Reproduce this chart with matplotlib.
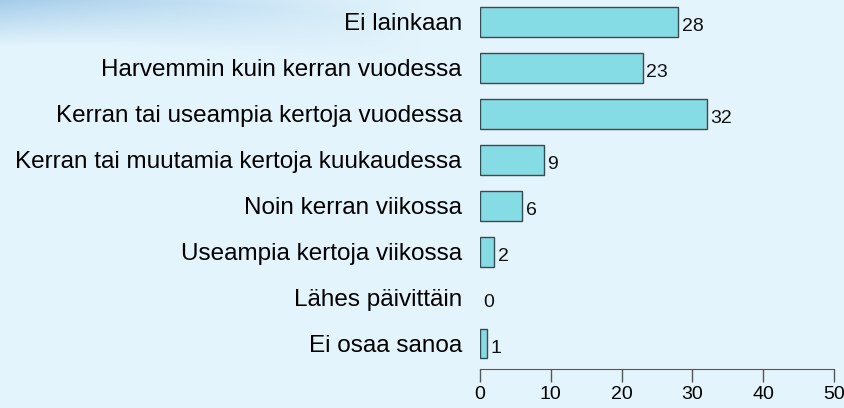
import numpy as np
import matplotlib.pyplot as plt

categories = ['Ei lainkaan', 'Harvemmin kuin kerran vuodessa',
              'Kerran tai useampia kertoja vuodessa',
              'Kerran tai muutamia kertoja kuukaudessa',
              'Noin kerran viikossa', 'Useampia kertoja viikossa',
              'Lähes päivittäin', 'Ei osaa sanoa']
values = [28, 23, 32, 9, 6, 2, 0, 1]
xticks = [0, 10, 20, 30, 40, 50]

plt.rcParams['font.family'] = ['Liberation Sans', 'DejaVu Sans']

W, H = 844, 408
fig = plt.figure(figsize=(W / 100, H / 100), dpi=100)
fig.patch.set_facecolor('#e3f4fc')

# soft blue swoosh in the top-left corner
bg = fig.add_axes([0, 0, 1, 1], zorder=-1)
yy, xx = np.mgrid[0:H, 0:W]
curve = 0.0002 * (xx - 60) ** 2
d = (yy - curve) / 45.0
fade = np.clip(1 - xx / 420.0, 0, 1)
swoosh = np.where(d >= 0, np.clip(1 - d, 0, 1), np.clip(1 + d * 0.5, 0, 1)) * fade
base = np.array([227, 244, 252]) / 255
dark = np.array([150, 195, 230]) / 255
a = swoosh[..., None] * 0.8
img = base[None, None, :] * (1 - a) + dark[None, None, :] * a
bg.imshow(img, aspect='auto', extent=[0, W, H, 0])
bg.axis('off')

ax = fig.add_axes([480 / W, 1 - 369 / H, (834 - 480) / W, 369 / H])
ax.patch.set_alpha(0)
y = np.arange(len(categories))
lw = [1 if v > 0 else 0 for v in values]
ax.barh(y, values, height=0.65, color='#86dce4', edgecolor='#3a4a50', linewidth=lw)
for yi, v in zip(y, values):
    ax.text(v + 0.5, yi + 0.1, str(v), va='center', ha='left', fontsize=14, color='#111111')

ax.set_xlim(0, 50)
ax.set_ylim(7.554, -0.478)
ax.set_yticks(y)
ax.set_yticklabels(categories, fontsize=17.5)
ax.tick_params(axis='y', length=0, pad=13)
ax.set_xticks(xticks)
ax.tick_params(axis='x', length=9, width=1, color='#555555', labelsize=14, pad=3)
for s in ['top', 'right', 'left']:
    ax.spines[s].set_visible(False)
ax.spines['bottom'].set_color('#555555')

fig.savefig('out.png', dpi=100, facecolor=fig.get_facecolor())
